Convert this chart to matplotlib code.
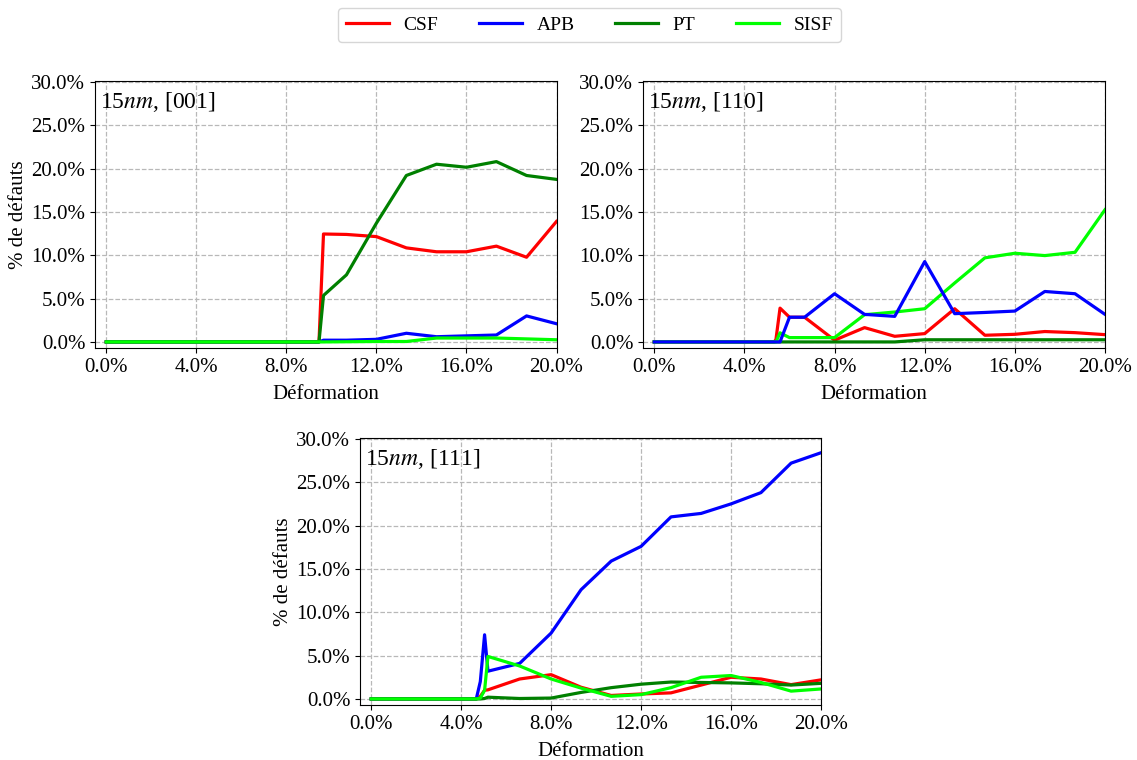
import matplotlib
matplotlib.use("Agg")
import matplotlib.pyplot as plt
from matplotlib.ticker import FuncFormatter, FixedLocator

plt.rcParams['font.family'] = ['Liberation Serif', 'DejaVu Serif']
plt.rcParams['mathtext.fontset'] = 'stix'

series_names = ["CSF", "APB", "PT", "SISF"]
series_colors = ["#ff0000", "#0000ff", "#008000", "#00ff00"]

# Panel 1 : 15nm, [001]
x_001 = [0, 1.33, 2.67, 4.0, 5.33, 6.67, 8.0, 9.33, 9.45, 9.65, 10.67, 12.0, 13.33, 14.67, 16.0, 17.33, 18.67, 20.0]
csf_001 = [0, 0, 0, 0, 0, 0, 0, 0, 0, 12.45, 12.4, 12.15, 10.85, 10.4, 10.4, 11.05, 9.77, 13.9]
apb_001 = [0, 0, 0, 0, 0, 0, 0, 0, 0, 0.2, 0.2, 0.3, 1.0, 0.6, 0.7, 0.8, 3.0, 2.1]
pt_001 = [0, 0, 0, 0, 0, 0, 0, 0, 0, 5.36, 7.74, 13.7, 19.2, 20.5, 20.15, 20.8, 19.2, 18.75]
sisf_001 = [0, 0, 0, 0, 0, 0, 0, 0, 0, 0, 0.02, 0.05, 0.05, 0.45, 0.45, 0.45, 0.35, 0.25]

# Panel 2 : 15nm, [110]
x_110 = [0, 1.33, 2.67, 4.0, 5.33, 5.40, 5.58, 6.0, 6.67, 8.0, 9.33, 10.67, 12.0, 13.33, 14.67, 16.0, 17.33, 18.67, 20.0]
csf_110 = [0, 0, 0, 0, 0, 0.3, 3.9, 2.85, 2.85, 0.2, 1.65, 0.65, 0.96, 3.83, 0.77, 0.88, 1.2, 1.07, 0.84]
apb_110 = [0, 0, 0, 0, 0, 0, 0, 2.85, 2.85, 5.56, 3.18, 2.95, 9.27, 3.26, 3.4, 3.56, 5.82, 5.56, 3.18]
pt_110 = [0, 0, 0, 0, 0, 0, 0, 0, 0, 0, 0, 0, 0.25, 0.25, 0.25, 0.25, 0.25, 0.25, 0.25]
sisf_110 = [0, 0, 0, 0, 0, 0, 1.05, 0.5, 0.5, 0.5, 3.14, 3.45, 3.83, 6.8, 9.7, 10.23, 9.96, 10.34, 15.25]

# Panel 3 : 15nm, [111]
x_111 = [0, 1.33, 2.67, 4.0, 4.67, 4.85, 5.04, 5.19, 6.6, 8.0, 9.33, 10.67, 12.0, 13.33, 14.67, 16.0, 17.33, 18.67, 20.0]
csf_111 = [0, 0, 0, 0, 0, 0.3, 1.0, 1.05, 2.3, 2.8, 1.35, 0.4, 0.57, 0.7, 1.6, 2.5, 2.3, 1.65, 2.2]
apb_111 = [0, 0, 0, 0, 0, 2.0, 7.4, 3.2, 4.1, 7.6, 12.6, 15.9, 17.6, 21.0, 21.4, 22.5, 23.8, 27.2, 28.4]
pt_111 = [0, 0, 0, 0, 0, 0, 0.05, 0.2, 0.05, 0.1, 0.75, 1.3, 1.7, 1.95, 1.9, 1.85, 1.75, 1.6, 1.8]
sisf_111 = [0, 0, 0, 0, 0, 0.1, 1.0, 4.9, 3.8, 2.3, 1.25, 0.3, 0.5, 1.3, 2.5, 2.7, 1.9, 0.9, 1.15]

panel_titles = [r"15$nm$, [001]", r"15$nm$, [110]", r"15$nm$, [111]"]
x_ticks = [0, 4, 8, 12, 16, 20]
y_ticks = [0, 5, 10, 15, 20, 25, 30]

panels = [
    (x_001, [csf_001, apb_001, pt_001, sisf_001], [1, 2, 3, 4]),
    (x_110, [csf_110, apb_110, pt_110, sisf_110], [1, 4, 2, 3]),
    (x_111, [csf_111, apb_111, pt_111, sisf_111], [1, 2, 3, 4]),
]

W, H = 1137, 760
fig = plt.figure(figsize=(W / 100, H / 100), dpi=100)

def rect(l, t, r, b):
    return [l / W, 1 - b / H, (r - l) / W, (b - t) / H]

axes_rects = [rect(95, 81, 556.5, 348), rect(643, 81, 1105, 348), rect(360, 438, 821, 705)]
pct = FuncFormatter(lambda v, p: f"{v:.1f}%")

handles = []
for i, ((xs, ys_list, zs), r) in enumerate(zip(panels, axes_rects)):
    ax = fig.add_axes(r)
    for name, col, ys, z in zip(series_names, series_colors, ys_list, zs):
        ln, = ax.plot(xs, ys, color=col, lw=2.3, label=name, zorder=2 + z * 0.1)
        if i == 0:
            handles.append(ln)
    ax.set_xlim(-0.5, 20)
    ax.set_ylim(-0.7, 30.1)
    ax.xaxis.set_major_locator(FixedLocator(x_ticks))
    ax.yaxis.set_major_locator(FixedLocator(y_ticks))
    ax.xaxis.set_major_formatter(pct)
    ax.yaxis.set_major_formatter(pct)
    ax.tick_params(labelsize=15)
    ax.grid(True, linestyle='--', color='#b8b8b8', lw=0.9)
    ax.set_axisbelow(True)
    ax.set_xlabel("Déformation", fontsize=15, labelpad=6)
    if i != 1:
        ax.set_ylabel("% de défauts", fontsize=15, labelpad=2)
    ax.text(0.01, 0.965, panel_titles[i], transform=ax.transAxes, fontsize=17,
            ha='left', va='top')

fig.legend(handles, series_names, loc='center', bbox_to_anchor=(589.5 / W, 1 - 25 / H),
           ncol=4, fontsize=14, handlelength=2.2, handletextpad=0.75, columnspacing=2.1,
           frameon=True, edgecolor='#cccccc', fancybox=True)

fig.savefig("out.png", dpi=100)
